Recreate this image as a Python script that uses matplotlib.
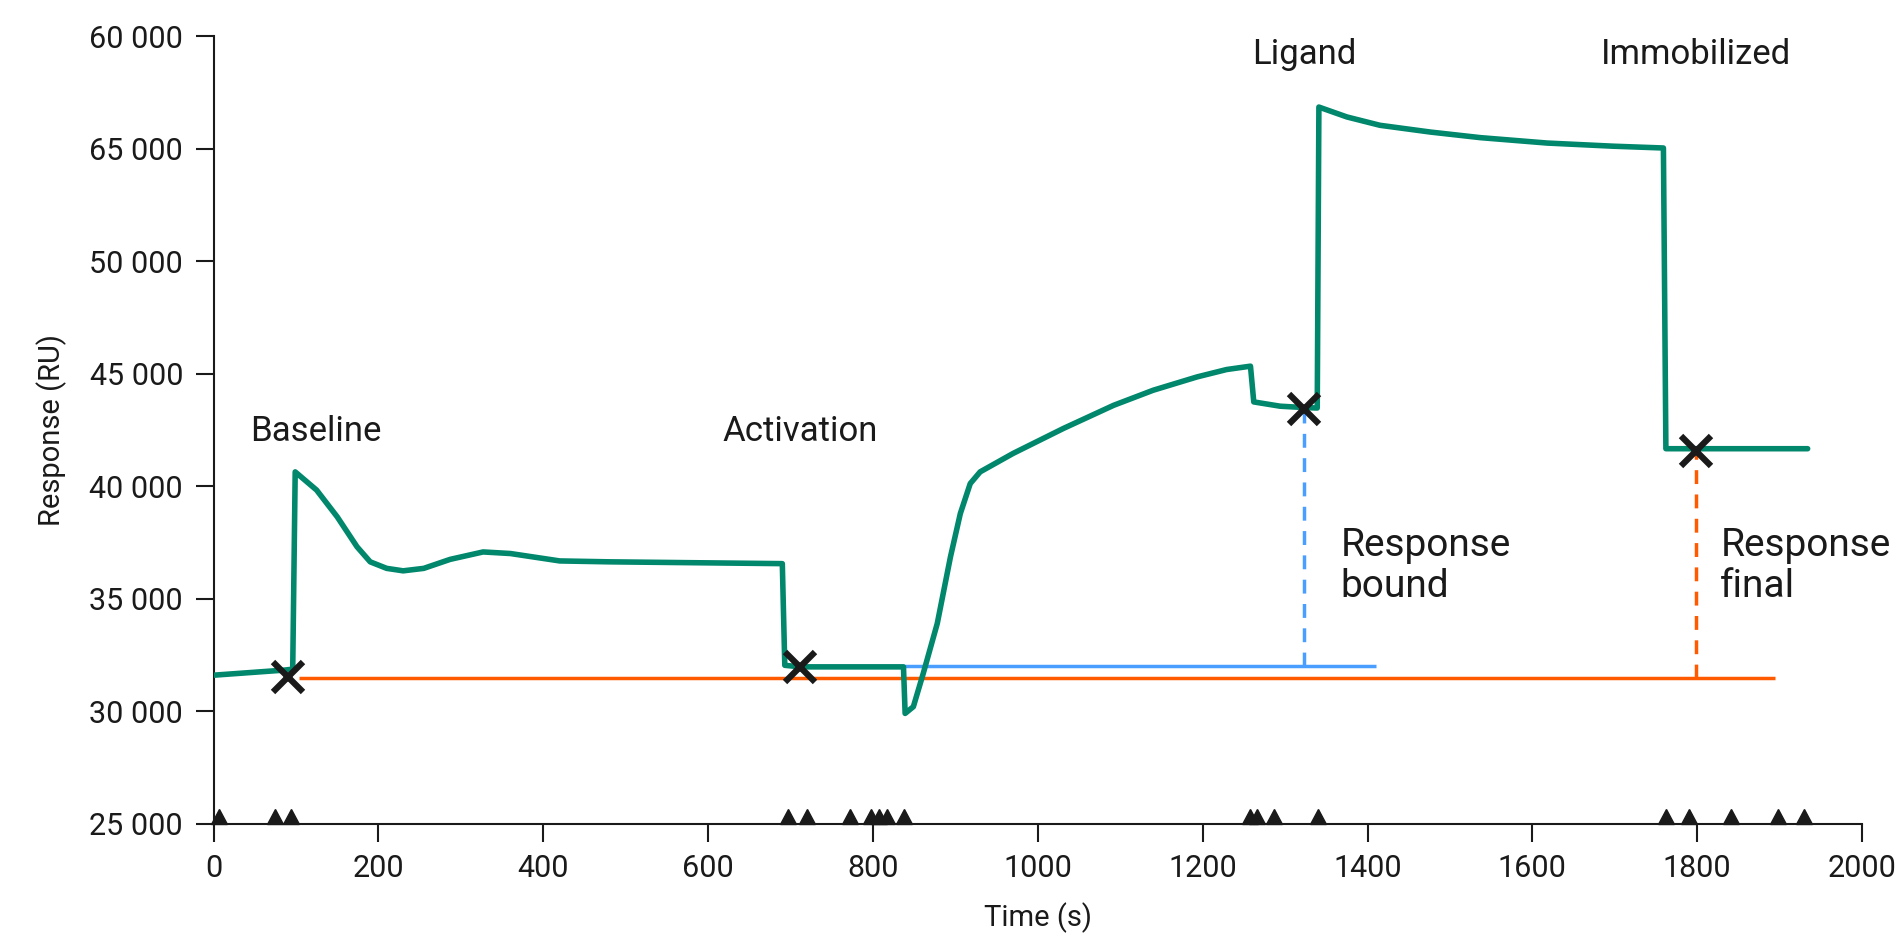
import matplotlib
matplotlib.use("Agg")
import matplotlib.pyplot as plt
from matplotlib.markers import MarkerStyle
from matplotlib.transforms import Affine2D

plt.rcParams['font.family'] = ['Roboto', 'DejaVu Sans']

# ---- data ----
time_s = [0, 87, 96, 99, 125, 150, 174, 190, 210, 230, 255, 287, 327, 360, 400, 420, 481,
          690, 693, 712, 837, 839, 849, 861, 878, 894, 906, 918, 930, 970, 1031, 1092,
          1140, 1193, 1229, 1258, 1262, 1294, 1323, 1339, 1341,
          1375, 1415, 1476, 1537, 1618, 1698, 1759, 1762, 1934]
response_ru = [31600, 31830, 31870, 40640, 39830, 38640, 37310, 36640, 36350, 36240, 36350,
               36750, 37080, 37010, 36790, 36680, 36640,
               36560, 32040, 31970, 31970, 29900, 30200, 31680, 33900, 36860, 38790, 40120,
               40640, 41460, 42570, 43600, 44270, 44860, 45190, 45340, 43750, 43560, 43500,
               43480, 56860,
               56420, 56050, 55750, 55500, 55260, 55120, 55040, 41670, 41670]

baseline_level = 31470
baseline_span = [104, 1894]
activation_level = 32010
activation_span = [712, 1410]

cross_t = [90, 711, 1323, 1798]
cross_r = [31530, 31960, 43450, 41560]

bound_t = 1323
bound_top = 43300
final_t = 1798
final_top = 41400

injection_t = [7, 74, 94, 697, 720, 772, 797, 807, 817, 838, 1258, 1266, 1286, 1340,
               1762, 1790, 1841, 1898, 1929]

phase_labels = ["Baseline", "Activation", "Ligand", "Immobilized"]
phase_label_t = [124, 712, 1323, 1798]
phase_label_r = [42420, 42420, 59190, 59190]

xticks = [0, 200, 400, 600, 800, 1000, 1200, 1400, 1600, 1800, 2000]
yticks = [25000, 30000, 35000, 40000, 45000, 50000, 55000, 60000]
ytick_labels = ["25 000", "30 000", "35 000", "40 000", "45 000", "50 000", "65 000", "60 000"]

GREEN = "#00876c"
ORANGE = "#ff5a00"
BLUE = "#4a9eff"
TXT = "#1a1a1a"

fig = plt.figure(figsize=(19.02, 9.44), dpi=100)
ax = fig.add_axes([0.1123, 0.1275, 0.8667, 0.8339])

ax.plot(baseline_span, [baseline_level] * 2, color=ORANGE, lw=2.5, solid_capstyle='butt', zorder=2)
ax.plot(activation_span, [activation_level] * 2, color=BLUE, lw=2.5, solid_capstyle='butt', zorder=2)
ax.plot([bound_t, bound_t], [activation_level, bound_top], color=BLUE, lw=2.5,
        dashes=(4, 3), zorder=2)
ax.plot([final_t, final_t], [baseline_level, final_top], color=ORANGE, lw=2.5,
        dashes=(4, 3), zorder=2)

ax.plot(time_s, response_ru, color=GREEN, lw=4, solid_joinstyle='round',
        solid_capstyle='round', zorder=3)

ax.plot(cross_t, cross_r, linestyle='none', marker='x', markersize=21, mew=4.5,
        color=TXT, zorder=5)

tri = MarkerStyle('^', transform=Affine2D().translate(0, 0.5))
ax.plot(injection_t, [25000] * len(injection_t), linestyle='none', marker=tri,
        markersize=11, color=TXT, clip_on=False, zorder=4)

for lab, t, r in zip(phase_labels, phase_label_t, phase_label_r):
    ax.text(t, r, lab, ha='center', va='center', fontsize=25, color=TXT)

ax.text(1367, 36450, "Response\nbound", ha='left', va='center', fontsize=28,
        color=TXT, linespacing=1.12)
ax.text(1828, 36450, "Response\nfinal", ha='left', va='center', fontsize=28,
        color=TXT, linespacing=1.12)

ax.set_xlim(0, 2000)
ax.set_ylim(25000, 60000)
ax.set_xticks(xticks)
ax.set_xticklabels([str(v) for v in xticks])
ax.set_yticks(yticks)
ax.set_yticklabels(ytick_labels)
for s in ['top', 'right']:
    ax.spines[s].set_visible(False)
for s in ['left', 'bottom']:
    ax.spines[s].set_linewidth(1.5)
    ax.spines[s].set_color(TXT)
ax.tick_params(axis='both', length=13, width=1.5, color=TXT, labelsize=22,
               labelcolor=TXT, pad=9)
ax.set_xlabel("Time (s)", fontsize=21, color=TXT, labelpad=14)
ax.set_ylabel("Response (RU)", fontsize=21, color=TXT, labelpad=16)

fig.savefig("out.png", dpi=100)
